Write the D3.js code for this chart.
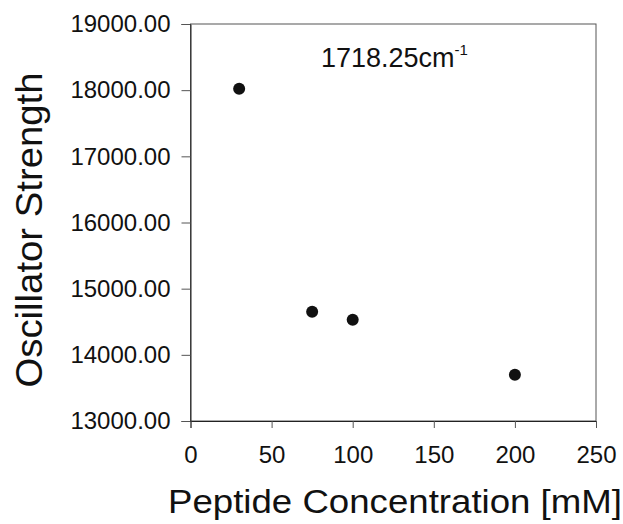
<!DOCTYPE html>
<html><head><meta charset="utf-8">
<script src="https://cdn.jsdelivr.net/npm/d3@7"></script>
<style>body{margin:0;background:#fff}svg{display:block}</style>
</head><body>
<script>
const concentration = [30, 75, 100, 200];
const strength = [18020, 14650, 14530, 13700];
const xTicks = [0, 50, 100, 150, 200, 250];
const yTicks = [13000, 14000, 15000, 16000, 17000, 18000, 19000];

const W = 623, H = 524;
const L = 190.5, R = 596, T = 24, B = 421;
const svg = d3.select("body").append("svg").attr("width", W).attr("height", H);
const font = "Liberation Sans, Arial, sans-serif";

const x = d3.scaleLinear().domain([0, 250]).range([L, R]);
const y = d3.scaleLinear().domain([13000, 19000]).range([B, T]);

// frame
svg.append("rect").attr("x", L).attr("y", T).attr("width", R - L).attr("height", B - T)
  .attr("fill", "none").attr("stroke", "#555").attr("stroke-width", 1);

const xa = svg.append("g").attr("transform", `translate(0,${B})`)
  .call(d3.axisBottom(x).tickValues(xTicks).tickSize(7).tickPadding(18).tickFormat(d3.format("d")));
const ya = svg.append("g").attr("transform", `translate(${L},0)`)
  .call(d3.axisLeft(y).tickValues(yTicks).tickSize(9).tickPadding(11).tickFormat(d3.format(".2f")));
[xa, ya].forEach(a => {
  a.select(".domain").attr("stroke", "#222");
  a.selectAll(".tick line").attr("stroke", "#555");
  a.selectAll("text").attr("font-family", font).attr("font-size", 24).attr("fill", "#111");
});

svg.append("g").selectAll("circle").data(concentration).join("circle")
  .attr("cx", (d) => x(d)).attr("cy", (d, i) => y(strength[i])).attr("r", 6).attr("fill", "#111");

const ann = svg.append("text").attr("x", 321).attr("y", 67)
  .attr("font-family", font).attr("font-size", 27).attr("fill", "#111");
ann.append("tspan").text("1718.25cm");
ann.append("tspan").attr("dy", -12).attr("font-size", 15).text("-1");

svg.append("text").attr("x", 395).attr("y", 513).attr("text-anchor", "middle")
  .attr("font-family", font).attr("font-size", 33).attr("fill", "#111")
  .attr("textLength", 454).attr("lengthAdjust", "spacingAndGlyphs")
  .text("Peptide Concentration [mM]");
svg.append("text").attr("transform", `translate(42,230) rotate(-90)`)
  .attr("text-anchor", "middle")
  .attr("font-family", font).attr("font-size", 36).attr("fill", "#111")
  .attr("textLength", 315).attr("lengthAdjust", "spacingAndGlyphs")
  .text("Oscillator Strength");
</script>
</body></html>
